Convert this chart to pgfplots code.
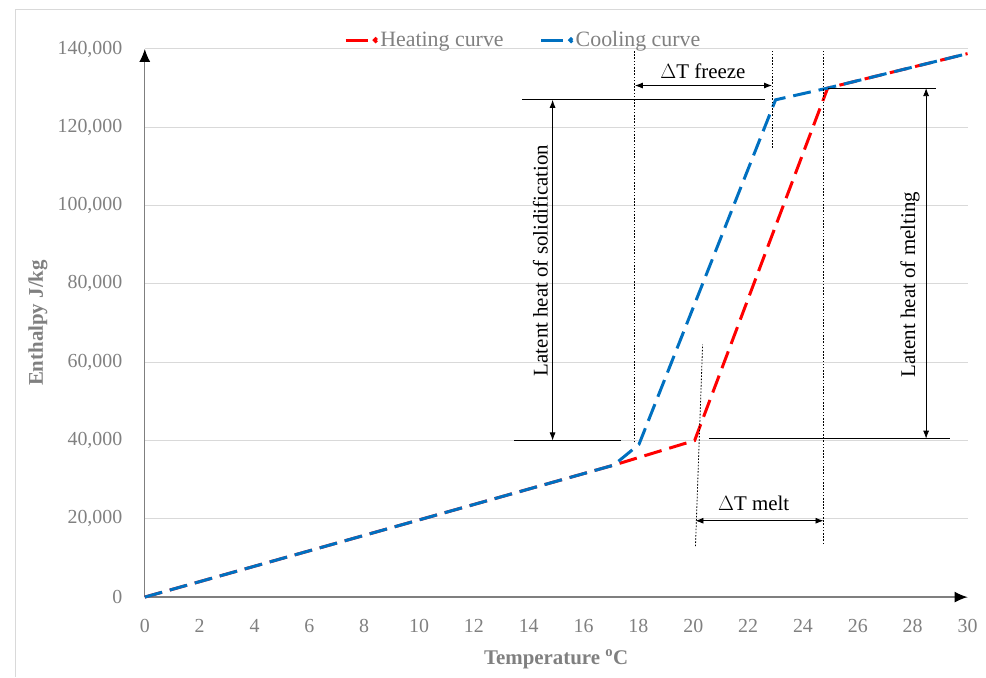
\documentclass[border=0pt]{standalone}
\usepackage{fontspec}
\setmainfont{Liberation Serif}
\usepackage{pgfplots}
\pgfplotsset{compat=1.18}
\usetikzlibrary{arrows.meta}

\definecolor{heat}{HTML}{FF0000}
\definecolor{cool}{HTML}{0070C0}
\definecolor{txtgray}{HTML}{808080}
\definecolor{gridgray}{HTML}{D9D9D9}
\definecolor{axgray}{HTML}{7F7F7F}

\begin{document}
\begin{tikzpicture}
\begin{axis}[
  scale only axis, width=824bp, height=549bp,
  xmin=0, xmax=30, ymin=0, ymax=140000,
  axis lines=left,
  axis line style={axgray, line width=1.2bp, -{Latex[length=13bp,width=11bp,black]}},
  xtick={0,2,...,30}, ytick={0,20000,...,140000},
  scaled y ticks=false,
  /pgf/number format/.cd, fixed, 1000 sep={,}, assume math mode=true, /pgfplots/.cd,
  major tick length=0pt,
  ymajorgrids, grid style={gridgray, line width=1bp},
  ticklabel style={font=\fontsize{20}{22}\selectfont, text=txtgray},
  yticklabel style={xshift=-19bp},
  xticklabel style={yshift=-19bp},
  xlabel={\textbf{Temperature \textsuperscript{o}C}},
  ylabel={\textbf{Enthalpy J/kg}},
  label style={font=\fontsize{21}{23}\selectfont, text=txtgray},
  xlabel style={at={(axis description cs:0.5,-0.113)}, anchor=center},
  ylabel style={at={(axis description cs:-0.13,0.5)}, anchor=center, rotate=0},
  legend columns=2,
  legend style={draw=none, fill=none, at={(axis description cs:0.46,1.016)}, anchor=center,
    font=\fontsize{22}{24}\selectfont, text=txtgray,
    /tikz/every even column/.append style={column sep=34bp}},
  legend image code/.code={
    \draw[#1, solid] (0bp,0bp) -- (22bp,0bp);
    \fill[#1] (30bp,0bp) circle (1.2bp);},
  clip=false,
]
\addplot[heat, line width=3bp, dash pattern=on 18bp off 8bp]
  coordinates {(0,0) (17.1,33700) (20.05,40000) (24.9,130000) (30,138800)};
\addlegendentry{Heating curve}
\addplot[cool, line width=3bp, dash pattern=on 18bp off 8bp]
  coordinates {(0,0) (17.1,33700) (18.02,39000) (23.0,127000) (24.9,130000) (30,138800)};
\addlegendentry{Cooling curve}

% dotted guides
\draw[black, line width=0.8bp, dash pattern=on 1.6bp off 1.6bp] (axis cs:17.87,39500) -- (axis cs:17.87,139800);
\draw[black, line width=0.8bp, dash pattern=on 1.6bp off 1.6bp] (axis cs:22.87,114700) -- (axis cs:22.87,139800);
\draw[black, line width=0.8bp, dash pattern=on 1.6bp off 1.6bp] (axis cs:24.75,13500) -- (axis cs:24.75,139800);
\draw[black, line width=0.8bp, dash pattern=on 1.6bp off 1.6bp] (axis cs:20.08,13000) -- (axis cs:20.34,64500);

% delta T freeze
\draw[black, line width=0.8bp, {Latex[length=8bp,width=6bp]}-{Latex[length=8bp,width=6bp]}]
  (axis cs:17.87,130650) -- (axis cs:22.87,130650);
\node[font=\fontsize{21}{23}\selectfont] at (axis cs:20.35,134300) {$\Delta$T freeze};
% delta T melt
\draw[black, line width=0.8bp, {Latex[length=8bp,width=6bp]}-{Latex[length=8bp,width=6bp]}]
  (axis cs:20.08,19500) -- (axis cs:24.75,19500);
\node[font=\fontsize{21}{23}\selectfont] at (axis cs:22.2,23900) {$\Delta$T melt};

% latent heat of solidification
\draw[black, line width=0.9bp] (axis cs:13.76,127000) -- (axis cs:22.6,127000);
\draw[black, line width=0.9bp] (axis cs:13.47,40000) -- (axis cs:17.35,40000);
\draw[black, line width=0.8bp, {Latex[length=8bp,width=6bp]}-{Latex[length=8bp,width=6bp]}]
  (axis cs:14.87,127000) -- (axis cs:14.87,40000);
\node[font=\fontsize{21}{23}\selectfont, rotate=90] at (axis cs:14.42,86000) {Latent heat of solidification};

% latent heat of melting
\draw[black, line width=0.9bp] (axis cs:24.9,130000) -- (axis cs:28.85,130000);
\draw[black, line width=0.9bp] (axis cs:20.57,40470) -- (axis cs:29.37,40470);
\draw[black, line width=0.8bp, {Latex[length=8bp,width=6bp]}-{Latex[length=8bp,width=6bp]}]
  (axis cs:28.49,130000) -- (axis cs:28.49,40470);
\node[font=\fontsize{21}{23}\selectfont, rotate=90] at (axis cs:27.9,79800) {Latent heat of melting};
\end{axis}
\pgfresetboundingbox
\path ([shift={(-145bp,-79bp)}]current axis.south west) rectangle ([shift={(841bp,598bp)}]current axis.south west);
\draw[gridgray, line width=1bp] ([shift={(-129bp,-80bp)}]current axis.south west) -- ([shift={(-129bp,588bp)}]current axis.south west) -- ([shift={(842bp,588bp)}]current axis.south west);
\end{tikzpicture}
\end{document}
